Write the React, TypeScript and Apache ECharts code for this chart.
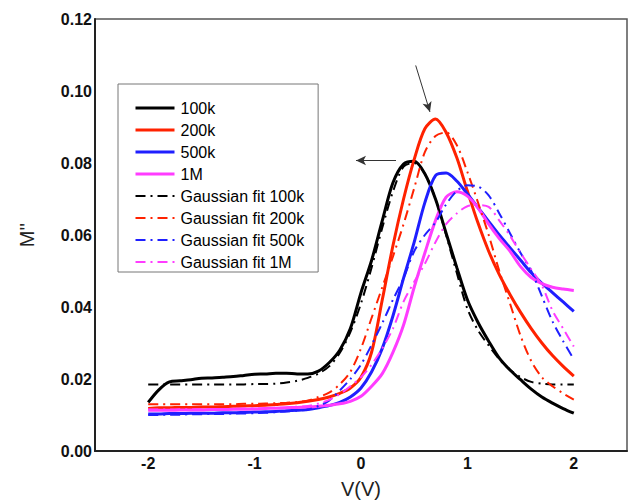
import React, { useEffect, useRef } from "react";
import * as echarts from "echarts";

const xs = [
  -2.0, -1.9, -1.8, -1.7, -1.6, -1.5, -1.4, -1.3, -1.2, -1.1, -1.0, -0.9, -0.8, -0.7, -0.6, -0.5, -0.4, -0.3, -0.2, -0.1,
  0.0, 0.1, 0.2, 0.3, 0.4, 0.5, 0.6, 0.7, 0.8, 0.9, 1.0, 1.1, 1.2, 1.3, 1.4, 1.5, 1.6, 1.7, 1.8, 1.9, 2.0,
];

const m100k = [
  0.0135, 0.017, 0.0192, 0.0195, 0.0198, 0.0202, 0.0203, 0.0205, 0.0207, 0.021, 0.0213, 0.0214, 0.0216, 0.0216, 0.0214, 0.0214, 0.0222, 0.0245, 0.028, 0.034,
  0.044, 0.053, 0.064, 0.0745, 0.0797, 0.0805, 0.077, 0.07, 0.0605, 0.051, 0.042, 0.0357, 0.0305, 0.0258, 0.0225, 0.0198, 0.0172, 0.015, 0.0133, 0.0118, 0.0105,
];
const m200k = [
  0.0118, 0.012, 0.012, 0.0121, 0.0121, 0.0122, 0.0122, 0.0123, 0.0124, 0.0125, 0.0126, 0.0127, 0.0129, 0.0131, 0.0134, 0.0138, 0.0143, 0.015, 0.016, 0.0175,
  0.0205, 0.0275, 0.042, 0.057, 0.07, 0.081, 0.0895, 0.0922, 0.0885, 0.0815, 0.0722, 0.0633, 0.0555, 0.049, 0.0435, 0.0385, 0.034, 0.03, 0.0265, 0.0235, 0.0208,
];
const m500k = [
  0.0103, 0.0103, 0.0104, 0.0104, 0.0105, 0.0105, 0.0105, 0.0106, 0.0106, 0.0107, 0.0108, 0.0109, 0.011, 0.0112, 0.0113, 0.0115, 0.012, 0.0126, 0.0135, 0.015,
  0.0175, 0.022, 0.0285, 0.0375, 0.048, 0.058, 0.069, 0.0765, 0.0772, 0.075, 0.0714, 0.0676, 0.0638, 0.06, 0.0565, 0.053, 0.0495, 0.0466, 0.044, 0.0414, 0.0388,
];
const m1M = [
  0.0113, 0.0113, 0.0113, 0.0114, 0.0114, 0.0114, 0.0115, 0.0115, 0.0116, 0.0116, 0.0117, 0.0118, 0.0119, 0.012, 0.0121, 0.0122, 0.0124, 0.0127, 0.0131, 0.0138,
  0.0152, 0.018, 0.0215, 0.0274, 0.035, 0.0455, 0.055, 0.064, 0.0705, 0.072, 0.0708, 0.0675, 0.063, 0.059, 0.0555, 0.0512, 0.0482, 0.0465, 0.0455, 0.045, 0.0446,
];
const fit100k = [
  0.0185, 0.0185, 0.0185, 0.0185, 0.0185, 0.0185, 0.0185, 0.0185, 0.0185, 0.0185, 0.0186, 0.0186, 0.0187, 0.019, 0.0195, 0.0203, 0.0215, 0.0235, 0.0272, 0.033,
  0.041, 0.051, 0.062, 0.072, 0.079, 0.08, 0.077, 0.07, 0.06, 0.0495, 0.0395, 0.0335, 0.0293, 0.0255, 0.0226, 0.0205, 0.0192, 0.0187, 0.0185, 0.0185, 0.0185,
];
const fit200k = [
  0.013, 0.013, 0.013, 0.013, 0.013, 0.013, 0.013, 0.013, 0.013, 0.0131, 0.0131, 0.0132, 0.0133, 0.0134, 0.0136, 0.014, 0.015, 0.0162, 0.0185, 0.022,
  0.0285, 0.037, 0.0455, 0.054, 0.063, 0.073, 0.083, 0.0875, 0.0885, 0.085, 0.0775, 0.069, 0.06, 0.05, 0.041, 0.032, 0.025, 0.0205, 0.018, 0.016, 0.0143,
];
const fit500k = [
  0.01, 0.01, 0.0101, 0.0101, 0.0102, 0.0102, 0.0103, 0.0103, 0.0104, 0.0104, 0.0105, 0.0106, 0.0108, 0.011, 0.0112, 0.0115, 0.0125, 0.014, 0.0168, 0.02,
  0.024, 0.0295, 0.0355, 0.042, 0.048, 0.0555, 0.06, 0.0635, 0.0685, 0.0722, 0.0738, 0.0735, 0.071, 0.066, 0.0605, 0.055, 0.05, 0.043, 0.036, 0.0305, 0.0255,
];
const fit1M = [
  0.0115, 0.0115, 0.0115, 0.0116, 0.0116, 0.0116, 0.0117, 0.0117, 0.0117, 0.0118, 0.0118, 0.0119, 0.012, 0.0121, 0.0123, 0.0125, 0.0132, 0.0142, 0.0158, 0.018,
  0.0205, 0.024, 0.0285, 0.034, 0.0415, 0.047, 0.052, 0.058, 0.063, 0.066, 0.068, 0.0683, 0.0678, 0.064, 0.0598, 0.055, 0.0505, 0.046, 0.039, 0.034, 0.029,
];

const names = ["100k", "200k", "500k", "1M", "Gaussian fit 100k", "Gaussian fit 200k", "Gaussian fit 500k", "Gaussian fit 1M"];
const colors = ["#000000", "#ff2200", "#1f1fff", "#ff3cff"];
const measured = [m100k, m200k, m500k, m1M];
const fits = [fit100k, fit200k, fit500k, fit1M];

// annotation arrows in data coordinates [start, end]
const arrows = [
  [[0.514, 0.1071], [0.648, 0.0942]],
  [[0.329, 0.0807], [-0.047, 0.0807]],
];

const FONT = "'Liberation Sans', Arial, sans-serif";

export default function App() {
  const ref = useRef<HTMLDivElement>(null);
  useEffect(() => {
    document.body.style.margin = "0";
    if (!ref.current) return;
    const chart = echarts.init(ref.current, undefined, { renderer: "svg" });
    const series: any[] = [];
    measured.forEach((ys, k) => {
      series.push({
        name: names[k],
        type: "line",
        symbol: "none",
        smooth: 0.3,
        data: xs.map((x, i) => [x, ys[i]]),
        lineStyle: { color: colors[k], width: 3 },
        itemStyle: { color: colors[k] },
        z: 2,
      });
    });
    fits.forEach((ys, k) => {
      series.push({
        name: names[k + 4],
        type: "line",
        symbol: "none",
        smooth: 0.3,
        data: xs.map((x, i) => [x, ys[i]]),
        lineStyle: { color: colors[k], width: 2, type: [10, 5, 2, 5] },
        itemStyle: { color: colors[k] },
        z: 3,
      });
    });
    series.push({
      name: "arrows",
      type: "line",
      data: [],
      markLine: {
        silent: true,
        symbol: ["none", "arrow"],
        symbolSize: [7, 10],
        label: { show: false },
        lineStyle: { color: "#333", width: 1, type: "solid" },
        data: arrows.map((a) => [{ coord: a[0] }, { coord: a[1] }]),
      },
    });
    chart.setOption({
      animation: false,
      backgroundColor: "#fff",
      grid: {
        left: 95,
        top: 19,
        right: 11,
        bottom: 52,
        show: true,
        borderColor: "#555",
        borderWidth: 1.5,
      },
      legend: {
        data: names,
        orient: "vertical",
        left: 118,
        top: 84,
        padding: [16, 14, 2, 16],
        itemWidth: 39,
        itemHeight: 2,
        itemGap: 6,
        itemStyle: { opacity: 0 },
        lineStyle: { width: "inherit" },
        borderColor: "#777",
        borderWidth: 1,
        backgroundColor: "#fff",
        textStyle: { fontFamily: FONT, fontSize: 16, color: "#000", padding: [0, 0, 0, 1] },
      },
      xAxis: {
        type: "value",
        min: -2.5,
        max: 2.5,
        interval: 0.5,
        name: "V(V)",
        nameLocation: "middle",
        nameGap: 28,
        nameTextStyle: { fontFamily: FONT, fontSize: 20, color: "#222" },
        axisLine: { show: true, onZero: false, lineStyle: { color: "#222", width: 2 } },
        axisTick: { show: false },
        splitLine: { show: false },
        axisLabel: {
          margin: 4,
          fontFamily: FONT,
          fontSize: 16,
          fontWeight: "bold",
          color: "#111",
          formatter: (v: number) => (Number.isInteger(v) && Math.abs(v) <= 2 ? String(v) : ""),
        },
      },
      yAxis: {
        type: "value",
        min: 0,
        max: 0.12,
        interval: 0.02,
        name: "M''",
        nameLocation: "middle",
        nameGap: 58,
        nameRotate: 90,
        nameTextStyle: { fontFamily: FONT, fontSize: 20, color: "#222" },
        axisLine: { show: true, onZero: false, lineStyle: { color: "#222", width: 2 } },
        axisTick: { show: false },
        splitLine: { show: false },
        axisLabel: {
          margin: 3,
          fontFamily: FONT,
          fontSize: 16,
          fontWeight: "bold",
          color: "#111",
          formatter: (v: number) => v.toFixed(2),
        },
      },
      series,
    });
    return () => chart.dispose();
  }, []);
  return <div ref={ref} style={{ width: 638, height: 504 }} />;
}
